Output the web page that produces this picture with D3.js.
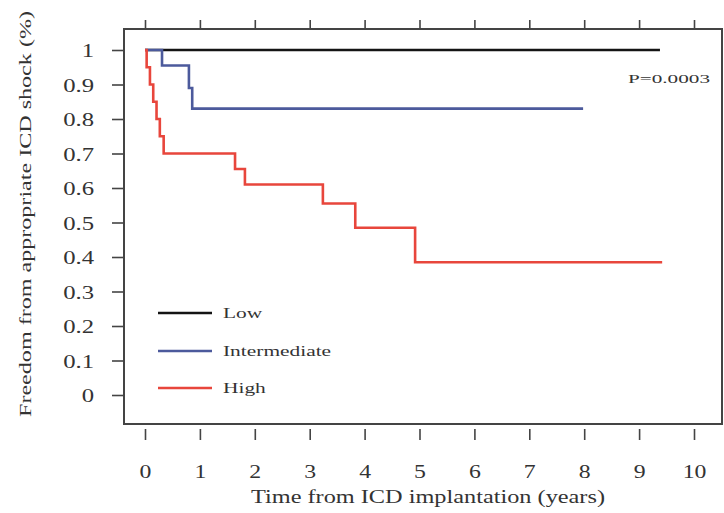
<!DOCTYPE html>
<html>
<head>
<meta charset="utf-8">
<script src="https://cdn.jsdelivr.net/npm/d3@7"></script>
<style>
  html, body { margin: 0; padding: 0; background: #fff; }
  svg { display: block; }
  text { font-family: "Liberation Serif", "Times New Roman", serif; fill: #333; }
</style>
</head>
<body>
<svg id="chart" width="724" height="513"></svg>
<script>
// ---- data ----
const xTicks = [0, 1, 2, 3, 4, 5, 6, 7, 8, 9, 10];
const yTicks = [0, 0.1, 0.2, 0.3, 0.4, 0.5, 0.6, 0.7, 0.8, 0.9, 1];
const seriesNames = ["Low", "Intermediate", "High"];
const seriesColors = ["#141414", "#4c5a9c", "#e8463c"];
const lowTimes = [0, 9.38];
const lowSurv = [1, 1];
const intTimes = [0, 0.31, 0.8, 0.86, 7.98];
const intSurv = [1, 0.955, 0.89, 0.83, 0.83];
const highTimes = [0, 0.03, 0.09, 0.15, 0.21, 0.27, 0.34, 1.64, 1.82, 3.24, 3.83, 4.92, 9.42];
const highSurv = [1, 0.95, 0.90, 0.85, 0.80, 0.75, 0.70, 0.655, 0.61, 0.555, 0.485, 0.385, 0.385];
const pText = "P=0.0003";
const xTitle = "Time from ICD implantation (years)";
const yTitle = "Freedom from appropriate ICD shock (%)";

const series = [
  { name: seriesNames[0], color: seriesColors[0], pts: lowTimes.map((t, i) => [t, lowSurv[i]]) },
  { name: seriesNames[1], color: seriesColors[1], pts: intTimes.map((t, i) => [t, intSurv[i]]) },
  { name: seriesNames[2], color: seriesColors[2], pts: highTimes.map((t, i) => [t, highSurv[i]]) }
];

const svg = d3.select("#chart");
const box = { left: 124, top: 29, right: 722, bottom: 424 };

const x = d3.scaleLinear().domain([0, 10]).range([145, 694]);
const y = d3.scaleLinear().domain([0, 1]).range([395, 50]);

function stretch(sel, f) {
  sel.each(function () {
    const w = this.getComputedTextLength();
    d3.select(this).attr("textLength", w * f).attr("lengthAdjust", "spacingAndGlyphs");
  });
}

// plot frame
svg.append("rect")
  .attr("x", box.left).attr("y", box.top)
  .attr("width", box.right - box.left).attr("height", box.bottom - box.top)
  .attr("fill", "none").attr("stroke", "#444").attr("stroke-width", 2);

// y axis
const gy = svg.append("g").attr("transform", `translate(${box.left},0)`)
  .call(d3.axisLeft(y).tickValues(yTicks).tickSize(12).tickPadding(18)
    .tickFormat(d => d === 0 ? "0" : d === 1 ? "1" : d3.format(".1f")(d)));
gy.select(".domain").remove();
gy.selectAll(".tick line").attr("stroke", "#444").attr("stroke-width", 1.6);
gy.selectAll(".tick text").attr("font-size", 19).attr("fill", "#2a2a2a").attr("dy", "0.36em")
  .call(stretch, 1.3);

// x axis bottom
const gx = svg.append("g").attr("transform", `translate(0,${box.bottom + 5})`)
  .call(d3.axisBottom(x).tickValues(xTicks).tickSize(11).tickPadding(25).tickFormat(d3.format("d")));
gx.select(".domain").remove();
gx.selectAll(".tick line").attr("stroke", "#444").attr("stroke-width", 1.6);
gx.selectAll(".tick text").attr("font-size", 19).attr("fill", "#2a2a2a")
  .call(stretch, 1.25);

// x axis top (ticks only)
const gt = svg.append("g").attr("transform", `translate(0,${box.top - 1})`)
  .call(d3.axisTop(x).tickValues(xTicks).tickSize(8).tickFormat(""));
gt.select(".domain").remove();
gt.selectAll(".tick line").attr("stroke", "#444").attr("stroke-width", 1.6);

// curves
const line = d3.line().x(d => x(d[0])).y(d => y(d[1])).curve(d3.curveStepAfter);
svg.append("g").selectAll("path").data(series).join("path")
  .attr("d", d => line(d.pts))
  .attr("fill", "none")
  .attr("stroke", d => d.color)
  .attr("stroke-width", 2.6);

// legend
const legY = [313, 351, 388];
const leg = svg.append("g").selectAll("g").data(series).join("g")
  .attr("transform", (d, i) => `translate(158,${legY[i]})`);
leg.append("line").attr("x1", 0).attr("x2", 54).attr("y1", 0).attr("y2", 0)
  .attr("stroke", d => d.color).attr("stroke-width", 2.6);
leg.append("text").attr("x", 65).attr("y", 5).attr("font-size", 15.5).attr("fill", "#2a2a2a")
  .text(d => d.name).call(stretch, 1.38);

// p value
svg.append("text").attr("x", 710).attr("y", 83).attr("text-anchor", "end")
  .attr("font-size", 13).attr("fill", "#555").text(pText)
  .attr("textLength", 82).attr("lengthAdjust", "spacingAndGlyphs");

// axis titles
svg.append("text").attr("x", 428).attr("y", 503).attr("text-anchor", "middle")
  .attr("font-size", 18).attr("fill", "#2a2a2a").text(xTitle)
  .attr("textLength", 354).attr("lengthAdjust", "spacingAndGlyphs");

svg.append("text").attr("transform", "translate(31,214) rotate(-90)")
  .attr("text-anchor", "middle").attr("font-size", 17).attr("fill", "#2a2a2a").text(yTitle)
  .attr("textLength", 406).attr("lengthAdjust", "spacingAndGlyphs");
</script>
</body>
</html>
